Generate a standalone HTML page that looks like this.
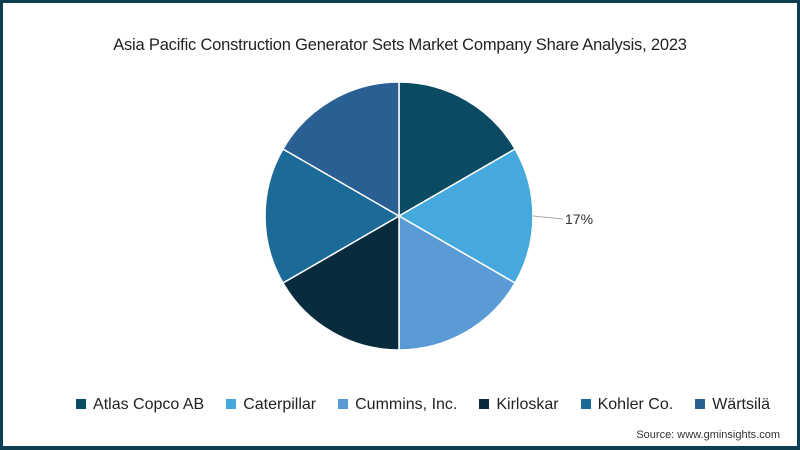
<!DOCTYPE html>
<html><head><meta charset="utf-8"><style>
html,body{margin:0;padding:0;background:#fff}
#wrap{position:relative;width:800px;height:450px;box-sizing:border-box;border:3px solid #0f3f52;border-bottom-width:4px;background:#fff;font-family:"Liberation Sans",sans-serif;overflow:hidden}
#title{position:absolute;top:33px;left:0;width:794px;text-align:center;font-size:16.5px;color:#222;letter-spacing:-0.2px}
#legend{position:absolute;top:393px;left:23px;width:794px;text-align:center;font-size:16px;color:#222;white-space:nowrap}
.li{display:inline-block;margin:0 11px}
.sw{display:inline-block;width:10px;height:10px;margin-right:7px;vertical-align:0px}
#src{position:absolute;right:17px;top:426px;font-size:11px;color:#333}
</style></head><body>
<div id="wrap">
<div id="title">Asia Pacific Construction Generator Sets Market Company Share Analysis, 2023</div>
<svg id="pie" width="794" height="440" style="position:absolute;left:0;top:0"></svg>
<div id="legend"></div>
<div id="src">Source: www.gminsights.com</div>
</div>
<script>
const categories=["Atlas Copco AB","Caterpillar","Cummins, Inc.","Kirloskar","Kohler Co.","Wärtsilä"];
const shares=[16.7,16.7,16.7,16.7,16.7,16.7];
const colors=["#0a4a62","#45a9de","#5b9bd5","#082b3d","#1c6a98","#295f93"];
const labelIndex=1;
const labelText="17%";
const NS="http://www.w3.org/2000/svg";
const svg=document.getElementById('pie');
const cx=396,cy=213,r=134;
const total=shares.reduce((a,b)=>a+b,0);
let ang=0;
function pt(a,rr){return [cx+rr*Math.sin(a),cy-rr*Math.cos(a)];}
shares.forEach((v,i)=>{
  const a0=ang,a1=ang+v/total*2*Math.PI;ang=a1;
  const p0=pt(a0,r),p1=pt(a1,r);
  const large=(a1-a0)>Math.PI?1:0;
  const p=document.createElementNS(NS,'path');
  p.setAttribute('d',`M${cx},${cy}L${p0[0]},${p0[1]}A${r},${r} 0 ${large} 1 ${p1[0]},${p1[1]}Z`);
  p.setAttribute('fill',colors[i]);
  p.setAttribute('stroke','#fff');
  p.setAttribute('stroke-width','1.5');
  
  
  svg.appendChild(p);
  if(i===labelIndex){
    const m=(a0+a1)/2;const e=pt(m,r);
    const l=document.createElementNS(NS,'polyline');
    l.setAttribute('points',`${e[0]},${e[1]} ${e[0]+20},${e[1]+2} ${e[0]+30},${e[1]+3}`);
    l.setAttribute('fill','none');l.setAttribute('stroke','#aaa');l.setAttribute('stroke-width','1');
    
    
    svg.appendChild(l);
    const t=document.createElementNS(NS,'text');
    t.setAttribute('x',e[0]+32);t.setAttribute('y',e[1]+8);
    t.setAttribute('font-size','14');t.setAttribute('fill','#333');
    t.setAttribute('font-family','Liberation Sans, sans-serif');
    t.textContent=labelText;
    
    
    svg.appendChild(t);
  }
});
const lg=document.getElementById('legend');
categories.forEach((c,i)=>{
  const s=document.createElement('span');s.className='li';
  
  
  s.innerHTML=`<span class="sw" style="background:${colors[i]}"></span>${c}`;
  lg.appendChild(s);
});
</script>
</body></html>
